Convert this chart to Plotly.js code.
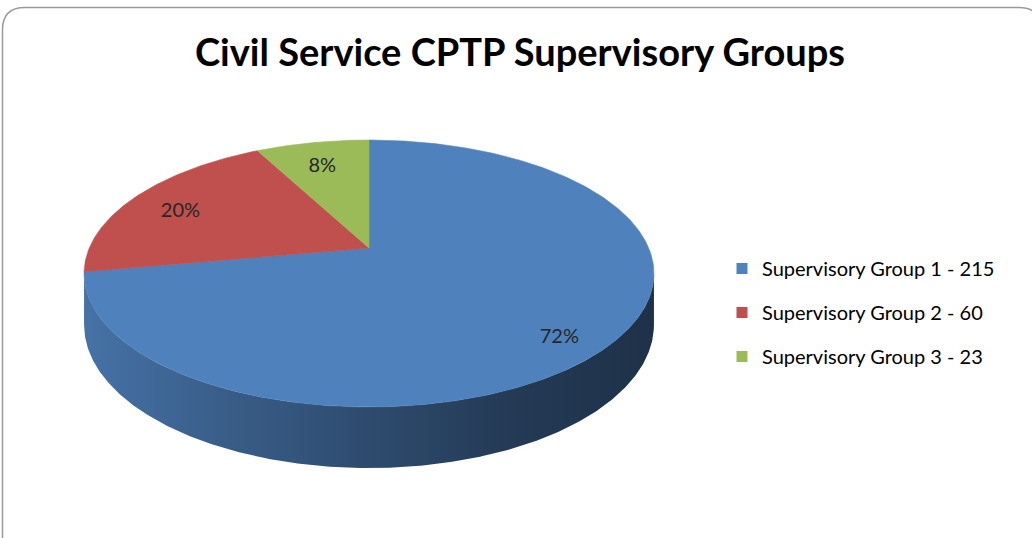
<!DOCTYPE html>
<html>
<head>
<meta charset="utf-8">
<script src="https://cdn.plot.ly/plotly-3.0.1.min.js"></script>
<style>
  html, body { margin: 0; padding: 0; background: #ffffff; }
  #chart { width: 1032px; height: 538px; }
</style>
</head>
<body>
<div id="chart"></div>
<script>
// ---- data ----
const categories = ['Supervisory Group 1', 'Supervisory Group 2', 'Supervisory Group 3'];
const values = [215, 60, 23];
const sliceColors = ['#4F81BD', '#C0504D', '#9BBB59'];
const chartTitle = 'Civil Service CPTP Supervisory Groups';

// ---- geometry of the tilted (perspective) pie, in pixel-like axis units ----
const G = { cx: 369, cy: 248, A: 279.7, B: 128.6, k: -0.191, D: 49.4 };

function proj(thetaDeg, f, drop) {
  const t = thetaDeg * Math.PI / 180;
  const X = f * Math.sin(t), Y = -f * Math.cos(t);
  const den = 1 + G.k * Y;
  return [G.cx + G.A * X / den, G.cy + G.B * Y / den + (drop ? G.D / den : 0)];
}
function shade(hex, f) {
  const n = parseInt(hex.slice(1), 16);
  const r = Math.round(((n >> 16) & 255) * f), g = Math.round(((n >> 8) & 255) * f), b = Math.round((n & 255) * f);
  return 'rgb(' + r + ',' + g + ',' + b + ')';
}

const total = values.reduce((a, b) => a + b, 0);
const starts = [];
let acc = 0;
values.forEach(v => { starts.push(acc / total * 360); acc += v; });

// visible front wall range (between rightmost and leftmost silhouette points)
const thR = Math.acos(G.k) * 180 / Math.PI;
const thL = 360 - thR;

const traces = [];

// side walls
values.forEach((v, i) => {
  const a0 = Math.max(starts[i], thR);
  const a1 = Math.min(starts[i] + v / total * 360, thL);
  if (a1 <= a0) return;
  const xs = [], ys = [];
  const n = Math.max(2, Math.ceil((a1 - a0) / 0.5));
  for (let j = 0; j <= n; j++) { const p = proj(a0 + (a1 - a0) * j / n, 1, false); xs.push(p[0]); ys.push(p[1]); }
  for (let j = n; j >= 0; j--) { const p = proj(a0 + (a1 - a0) * j / n, 1, true); xs.push(p[0]); ys.push(p[1]); }
  traces.push({
    type: 'scatter', mode: 'lines', x: xs, y: ys, fill: 'toself',
    fillgradient: { type: 'horizontal', colorscale: [
      [0, shade(sliceColors[i], 0.88)], [0.25, shade(sliceColors[i], 0.72)],
      [0.5, shade(sliceColors[i], 0.58)], [0.75, shade(sliceColors[i], 0.45)],
      [1, shade(sliceColors[i], 0.38)]] },
    line: { width: 0 }, showlegend: false, hoverinfo: 'skip'
  });
});

// top faces
values.forEach((v, i) => {
  const a0 = starts[i], a1 = starts[i] + v / total * 360;
  const xs = [G.cx], ys = [G.cy];
  const n = Math.max(2, Math.ceil((a1 - a0) / 0.5));
  for (let j = 0; j <= n; j++) { const p = proj(a0 + (a1 - a0) * j / n, 1, false); xs.push(p[0]); ys.push(p[1]); }
  xs.push(G.cx); ys.push(G.cy);
  traces.push({
    type: 'scatter', mode: 'lines', x: xs, y: ys, fill: 'toself',
    fillcolor: sliceColors[i], line: { width: 0.6, color: sliceColors[i] },
    showlegend: false, hoverinfo: 'skip'
  });
});

// percentage labels
const lx = [], ly = [], lt = [];
values.forEach((v, i) => {
  const mid = starts[i] + v / total * 180;
  const p = proj(mid, 0.8, false);
  const t = mid * Math.PI / 180;
  const Y = -0.8 * Math.cos(t);
  const den = 1 + G.k * Y;
  lx.push(p[0]);
  ly.push(p[1] + 6 + Math.max(0, Y) * 0.4 * G.D / den);
  lt.push(Math.round(v / total * 100) + '%');
});
traces.push({
  type: 'scatter', mode: 'text', x: lx, y: ly, text: lt, textposition: 'middle center',
  textfont: { family: 'Lato, "Open Sans", sans-serif', size: 20, color: '#262626' },
  showlegend: false, hoverinfo: 'skip'
});

// legend entries
categories.forEach((c, i) => {
  traces.push({
    type: 'scatter', mode: 'markers', x: [null], y: [null],
    name: c + ' - ' + values[i], legendgroup: 'g' + i,
    marker: { symbol: 'square', size: 11, color: sliceColors[i] }
  });
});

const layout = {
  width: 1032, height: 538,
  margin: { l: 0, r: 0, t: 0, b: 0, pad: 0 },
  paper_bgcolor: '#ffffff', plot_bgcolor: 'rgba(0,0,0,0)',
  font: { family: 'Lato, "Open Sans", sans-serif', color: '#000000' },
  title: {
    text: '<b>' + chartTitle + '</b>',
    x: 520 / 1032, xanchor: 'center', xref: 'paper',
    y: 1 - 53 / 538, yanchor: 'middle', yref: 'container',
    font: { family: 'Lato, "Open Sans", sans-serif', size: 38, color: '#000000' }
  },
  xaxis: { range: [0, 1032], visible: false, fixedrange: true },
  yaxis: { range: [538, 0], visible: false, fixedrange: true },
  showlegend: true,
  legend: {
    x: 722 / 1032, xanchor: 'left', y: 1 - 249 / 538, yanchor: 'top',
    font: { family: 'Lato, "Open Sans", sans-serif', size: 20, color: '#000000' },
    tracegroupgap: 15, itemwidth: 30, bgcolor: 'rgba(0,0,0,0)', traceorder: 'grouped'
  },
  shapes: [{
    type: 'path', xref: 'x', yref: 'y', layer: 'below',
    path: 'M 2.5 560 L 2.5 30 Q 2.5 7.5 25 7.5 L 1019 7.5 Q 1041.5 7.5 1041.5 30 L 1041.5 560 Z',
    line: { color: '#9a9a9a', width: 1.5 }, fillcolor: 'rgba(0,0,0,0)'
  }]
};

Plotly.newPlot('chart', traces, layout, { displayModeBar: false, staticPlot: true });
</script>
</body>
</html>
